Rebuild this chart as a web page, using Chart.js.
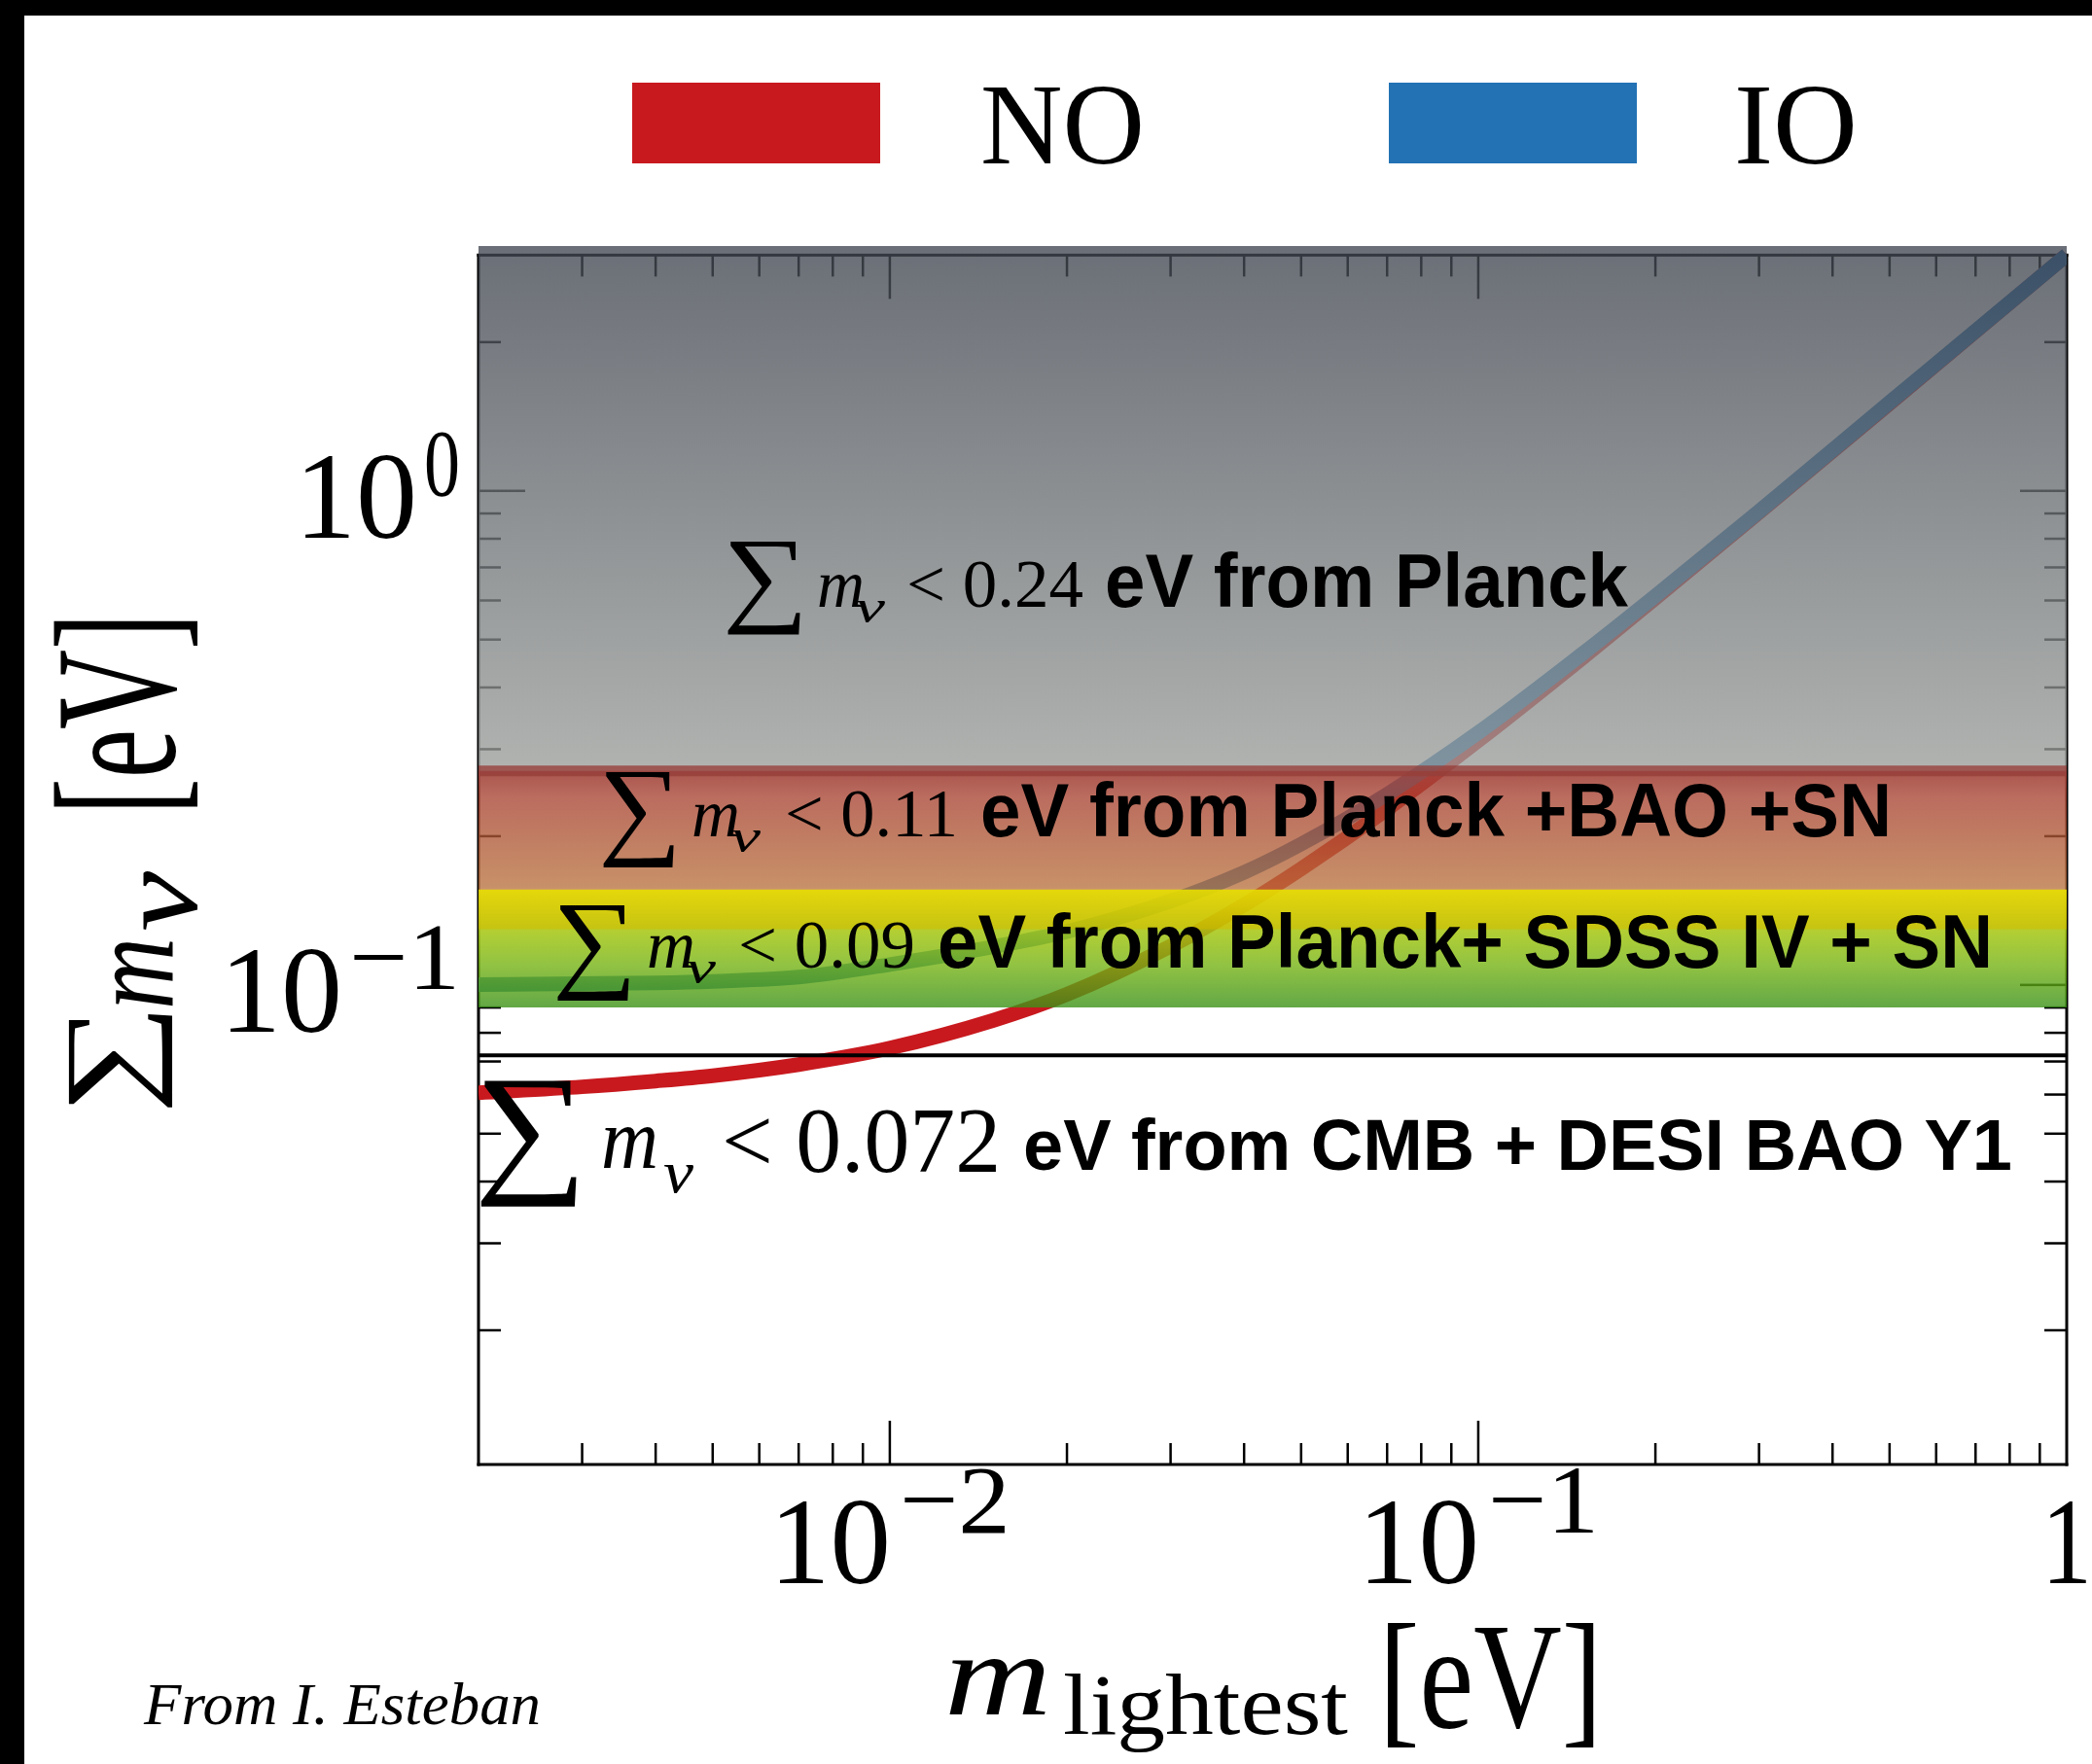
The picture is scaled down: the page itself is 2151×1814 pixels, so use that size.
<!DOCTYPE html>
<html>
<head>
<meta charset="utf-8">
<script src="https://cdn.jsdelivr.net/npm/chart.js@4.4.1/dist/chart.umd.min.js"></script>
<style>
  html, body { margin: 0; padding: 0; background: #fff; }
  #wrap { position: relative; width: 2151px; height: 1814px; }
</style>
</head>
<body>
<div id="wrap"><canvas id="c"></canvas></div>
<script>
// Lightest neutrino mass [eV]
const mLightest = [0.002, 0.003, 0.004, 0.005, 0.007, 0.01, 0.015, 0.02, 0.03, 0.04, 0.05, 0.07, 0.1, 0.15, 0.2, 0.3, 0.5, 0.7, 1.0];
// Sum of neutrino masses [eV], normal ordering
const sumNO = [0.0605, 0.0622, 0.0639, 0.0655, 0.0690, 0.0745, 0.0848, 0.0957, 0.1198, 0.1452, 0.1718, 0.2268, 0.3122, 0.458, 0.6065, 0.9045, 1.5025, 2.1018, 3.001];
// Sum of neutrino masses [eV], inverted ordering
const sumIO = [0.1002, 0.1006, 0.1010, 0.1017, 0.1037, 0.1100, 0.1195, 0.1282, 0.1478, 0.1690, 0.1928, 0.2432, 0.3240, 0.4670, 0.6130, 0.9090, 1.5100, 2.1070, 3.003];
const seriesNames = ['NO', 'IO'];

// Cosmological upper bounds [eV] and their sources
const boundValues = [0.24, 0.11, 0.09, 0.072];
const boundSources = ['eV from Planck', 'eV from Planck +BAO +SN', 'eV from Planck+ SDSS IV + SN', 'eV from CMB + DESI BAO Y1'];
// Upper edges of the shaded exclusion bands [eV]
const bandTops = [3.2, 0.271, 0.156];

// Axis ticks
const xMajorTicks = [0.01, 0.1, 1];
const xTickLabels = [['10', '\u22122'], ['10', '\u22121'], ['1', '']];
const yMajorTicks = [0.1, 1];
const yTickLabels = [['10', '\u22121'], ['10', '0']];

const X_MIN = 0.002, X_MAX = 1;
const Y_MIN = 0.0107, Y_MAX = 3.13, Y_FRAME = 3;

const SERIF = '"Liberation Serif", "DejaVu Serif", serif';
const SANS = '"Liberation Sans", Arial, sans-serif';

function minorTicks(lo, hi, decades) {
  const out = [];
  decades.forEach(d => {
    for (let k = 2; k <= 9; k++) {
      const v = +(k * d).toPrecision(3);
      if (v > lo && v < hi) out.push(v);
    }
  });
  return out;
}
const xMinor = minorTicks(X_MIN, X_MAX, [0.001, 0.01, 0.1]);
const yMinor = minorTicks(Y_MIN, Y_FRAME, [0.01, 0.1, 1]);

function setTicks(majors, minors) {
  return scale => {
    scale.ticks = majors.concat(minors).sort((a, b) => a - b)
      .map(v => ({ value: v, major: majors.includes(v) }));
  };
}

// text scaled horizontally to a given width, left edge at x, baseline at y
function textW(ctx, text, x, y, font, width) {
  ctx.font = font;
  const w = ctx.measureText(text).width;
  ctx.save();
  ctx.translate(x, y);
  if (width) ctx.scale(width / w, 1);
  ctx.textAlign = 'left';
  ctx.textBaseline = 'alphabetic';
  ctx.fillText(text, 0, 0);
  ctx.restore();
}
// text whose ink fills the box (left, bottom, w, h)
function textBox(ctx, text, left, bottom, w, h, font) {
  ctx.font = font;
  const m = ctx.measureText(text);
  const gw = m.actualBoundingBoxLeft + m.actualBoundingBoxRight;
  const gh = m.actualBoundingBoxAscent + m.actualBoundingBoxDescent;
  ctx.save();
  ctx.translate(left, bottom);
  ctx.scale(w / gw, h / gh);
  ctx.textAlign = 'left';
  ctx.textBaseline = 'alphabetic';
  ctx.fillText(text, m.actualBoundingBoxLeft, -m.actualBoundingBoxDescent);
  ctx.restore();
}

// vertical gradient between two data values of the y axis
function bandFill(lowVal, highVal, stops) {
  return c => {
    const chart = c.chart;
    const area = chart.chartArea;
    if (!area) return 'rgba(0,0,0,0)';
    const y = chart.scales.y;
    const top = Math.max(y.getPixelForValue(highVal), area.top);
    const bottom = y.getPixelForValue(lowVal);
    const g = chart.ctx.createLinearGradient(0, top, 0, bottom);
    stops.forEach(([o, col]) => g.addColorStop(o, col));
    return g;
  };
}

const edge = v => [{ x: X_MIN, y: v }, { x: X_MAX, y: v }];
const flat = { pointRadius: 0, borderWidth: 0, borderColor: 'rgba(0,0,0,0)', fill: false };

// placement of the bound annotations: [left, baseline/bottom, width, size]
const boundLayout = [
  { sigma: [748, 652, 75, 96],  m: [840, 624, 49, 70], nu: [879, 640, 31, 48], lt: [932, 624, 182, 70], src: [1136, 624, 538, 78] },
  { sigma: [620, 892, 73, 99],  m: [711, 860, 50, 70], nu: [751, 876, 31, 48], lt: [807, 860, 178, 70], src: [1008, 860, 937, 78] },
  { sigma: [573, 1029, 74, 99], m: [665, 995, 50, 70], nu: [705, 1011, 31, 48], lt: [759, 995, 182, 70], src: [964, 995, 1085, 78] },
  { sigma: [494, 1241, 99, 130], m: [618, 1201, 59, 88], nu: [682, 1226, 31, 62], lt: [742, 1205, 287, 95], src: [1052, 1203, 1017, 75] }
];

const decor = {
  id: 'decor',
  beforeDraw(chart) {
    const ctx = chart.ctx;
    ctx.save();
    ctx.fillStyle = '#fff';
    ctx.fillRect(0, 0, chart.width, chart.height);
    ctx.fillStyle = '#000';
    ctx.fillRect(0, 0, chart.width, 16);
    ctx.fillRect(0, 0, 25, chart.height);
    ctx.restore();
  },
  beforeDatasetsDraw(chart) {
    const { ctx, chartArea: a, scales: { x, y } } = chart;
    const top = y.getPixelForValue(Y_FRAME);
    ctx.save();
    ctx.fillStyle = '#000';
    // frame
    ctx.fillRect(a.left - 1.5, top - 1.5, 3, a.bottom - top + 3);
    ctx.fillRect(a.right - 1.5, top - 1.5, 3, a.bottom - top + 3);
    ctx.fillRect(a.left - 1.5, a.bottom - 1.5, a.right - a.left + 3, 3);
    ctx.fillRect(a.left - 1.5, top - 1.5, a.right - a.left + 3, 3);
    // inward ticks on all four sides
    x.ticks.forEach(t => {
      const px = x.getPixelForValue(t.value);
      if (px <= a.left + 1 || px >= a.right - 1) return;
      const len = t.major ? 45 : 22;
      ctx.fillRect(px - 1.25, a.bottom - len, 2.5, len);
      ctx.fillRect(px - 1.25, top, 2.5, len);
    });
    y.ticks.forEach(t => {
      const py = y.getPixelForValue(t.value);
      if (py <= top + 1 || py >= a.bottom - 1) return;
      const len = t.major ? 48 : 23;
      ctx.fillRect(a.left, py - 1.25, len, 2.5);
      ctx.fillRect(a.right - len, py - 1.25, len, 2.5);
    });
    ctx.restore();
  },
  afterDraw(chart) {
    const { ctx, scales: { x, y } } = chart;
    ctx.save();
    ctx.fillStyle = '#000';

    // x tick labels
    xMajorTicks.forEach((v, i) => {
      const px = x.getPixelForValue(v);
      const [base, exp] = xTickLabels[i];
      if (exp) {
        textW(ctx, base, px - 124, 1628, `128px ${SERIF}`, 125);
        textW(ctx, exp, px + 10, 1576, `100px ${SERIF}`, 114);
      } else {
        textW(ctx, base, px - 26, 1628, `128px ${SERIF}`, 52);
      }
    });
    // y tick labels
    yMajorTicks.forEach((v, i) => {
      const py = y.getPixelForValue(v);
      const [base, exp] = yTickLabels[i];
      const ew = exp.length > 1 ? 114 : 37;
      textW(ctx, exp, 473 - ew, py + 4, `98px ${SERIF}`, ew);
      textW(ctx, base, 473 - ew - 7 - 126, py + 48, `128px ${SERIF}`, 126);
    });

    // x axis title
    textW(ctx, 'm', 971, 1763, `italic 120px ${SERIF}`, 110);
    textW(ctx, 'lightest', 1093, 1783, `88px ${SERIF}`, 293);
    textBox(ctx, '[eV]', 1427, 1797, 212, 129, `136px ${SERIF}`);

    // y axis title, rotated
    ctx.save();
    ctx.translate(178, 888);
    ctx.rotate(-Math.PI / 2);
    textBox(ctx, '\u2211', -251, 0, 96, 107, `160px ${SERIF}`);
    textW(ctx, 'm', -150, 0, `italic 128px ${SERIF}`, 74);
    textW(ctx, '\u03bd', -70, 24, `italic 118px ${SERIF}`, 62);
    textBox(ctx, '[eV]', 58, 25, 192, 148, `140px ${SERIF}`);
    ctx.restore();

    // bound annotations
    boundValues.forEach((v, i) => {
      const L = boundLayout[i];
      textBox(ctx, '\u2211', L.sigma[0], L.sigma[1], L.sigma[2], L.sigma[3], `150px ${SERIF}`);
      textW(ctx, 'm', L.m[0], L.m[1], `italic ${L.m[3]}px ${SERIF}`, L.m[2]);
      textW(ctx, '\u03bd', L.nu[0], L.nu[1], `italic ${L.nu[3]}px ${SERIF}`, L.nu[2]);
      textW(ctx, '< ' + String(v), L.lt[0], L.lt[1], `${L.lt[3]}px ${SERIF}`, L.lt[2]);
      textW(ctx, boundSources[i], L.src[0], L.src[1], `bold ${L.src[3]}px ${SANS}`, L.src[2]);
    });

    // legend
    const legendPos = [[650, 1008, 169], [1428, 1783, 127]];
    [0, 1].forEach(i => {
      const ds = chart.data.datasets[i];
      const [bx, tx, tw] = legendPos[i];
      ctx.fillStyle = ds.borderColor;
      ctx.fillRect(bx, 85, 255, 83);
      ctx.fillStyle = '#000';
      textW(ctx, ds.label, tx, 168, `118px ${SERIF}`, tw);
    });

    // credit
    textW(ctx, 'From I. Esteban', 148, 1773, `italic 62px ${SERIF}`, 408);
    ctx.restore();
  }
};

new Chart(document.getElementById('c'), {
  type: 'line',
  data: {
    datasets: [
      { label: seriesNames[0], data: mLightest.map((m, i) => ({ x: m, y: sumNO[i] })),
        borderColor: '#c8191e', borderWidth: 15, pointRadius: 0, fill: false,
        cubicInterpolationMode: 'monotone', order: 10, clip: 0 },
      { label: seriesNames[1], data: mLightest.map((m, i) => ({ x: m, y: sumIO[i] })),
        borderColor: '#2272b4', borderWidth: 15, pointRadius: 0, fill: false,
        cubicInterpolationMode: 'monotone', order: 9, clip: 0 },
      { label: 'DESI', data: edge(boundValues[3]), borderColor: '#000', borderWidth: 4,
        pointRadius: 0, fill: false, order: 8 },
      // Planck
      { label: 'planck-low', data: edge(boundValues[0]), ...flat, order: 7 },
      { label: 'planck', data: edge(bandTops[0]), ...flat, fill: '-1', order: 6,
        backgroundColor: bandFill(boundValues[0], bandTops[0], [
          [0, 'rgba(65,70,80,0.78)'], [0.94, 'rgba(153,156,153,0.78)'], [1, 'rgba(160,162,160,0.0)']]) },
      // Planck + BAO + SN
      { label: 'bao-low', data: edge(boundValues[1]), ...flat, order: 5 },
      { label: 'bao', data: edge(bandTops[1]), pointRadius: 0, fill: '-1', order: 4,
        borderWidth: 11, borderColor: 'rgba(150,62,58,0.8)',
        backgroundColor: bandFill(boundValues[1], bandTops[1], [
          [0, 'rgba(163,54,46,0.78)'], [0.6, 'rgba(184,113,61,0.78)'], [1, 'rgba(191,133,66,0.0)']]) },
      // Planck + SDSS IV + SN
      { label: 'sdss-low', data: edge(boundValues[2]), ...flat, order: 3 },
      { label: 'sdss', data: edge(bandTops[2]), ...flat, fill: '-1', order: 2,
        backgroundColor: bandFill(boundValues[2], bandTops[2], [
          [0, 'rgba(232,223,0,0.9)'], [0.33, 'rgba(194,194,0,0.9)'],
          [0.345, 'rgba(166,206,16,0.8)'], [1, 'rgba(59,146,24,0.8)']]) }
    ]
  },
  options: {
    responsive: true,
    maintainAspectRatio: false,
    devicePixelRatio: 1,
    animation: false,
    events: [],
    layout: { padding: { left: 492, right: 26, top: 253, bottom: 308 } },
    plugins: { legend: { display: false }, tooltip: { enabled: false }, title: { display: false } },
    scales: {
      x: { type: 'logarithmic', min: X_MIN, max: X_MAX, display: false,
           afterBuildTicks: setTicks(xMajorTicks, xMinor) },
      y: { type: 'logarithmic', min: Y_MIN, max: Y_MAX, display: false,
           afterBuildTicks: setTicks(yMajorTicks, yMinor) }
    }
  },
  plugins: [decor]
});
</script>
</body>
</html>
